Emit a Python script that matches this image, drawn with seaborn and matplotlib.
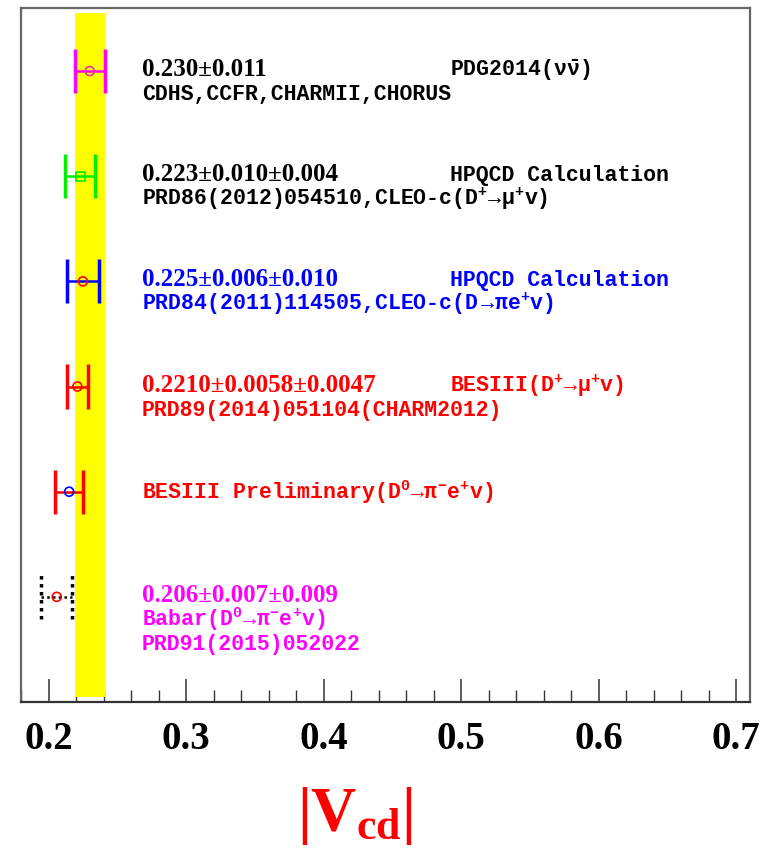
import numpy as np
import pandas as pd
import matplotlib
matplotlib.use("Agg")
import matplotlib.pyplot as plt
from matplotlib.ticker import MultipleLocator
import seaborn as sns

# ---------------- data ----------------
measurements = ["PDG2014", "HPQCD (D+->mu v)", "HPQCD (D->pi e v)",
                "BESIII (D+->mu v)", "BESIII Preliminary", "Babar"]
vcd_values = [0.230, 0.223, 0.225, 0.2210, 0.215, 0.206]
vcd_errors = [0.011, 0.0108, 0.0117, 0.0075, 0.010, 0.0114]

value_texts = ["0.230±0.011", "0.223±0.010±0.004", "0.225±0.006±0.010",
               "0.2210±0.0058±0.0047", "", "0.206±0.007±0.009"]
source_texts = [r"PDG2014($\nu\bar{\nu}$)", "HPQCD Calculation", "HPQCD Calculation",
                r"BESIII(D$^{+}\!\rightarrow\!\mu^{+}$v)", "", ""]
ref_texts = [["CDHS,CCFR,CHARMII,CHORUS"],
             [r"PRD86(2012)054510,CLEO-c(D$^{+}\!\rightarrow\!\mu^{+}$v)"],
             [r"PRD84(2011)114505,CLEO-c(D$\rightarrow\!\pi$e$^{+}$v)"],
             ["PRD89(2014)051104(CHARM2012)"],
             [r"BESIII Preliminary(D$^{0}\!\rightarrow\!\pi^{-}$e$^{+}$v)"],
             [r"Babar(D$^{0}\!\rightarrow\!\pi^{-}$e$^{+}$v)", "PRD91(2015)052022"]]

band_center = 0.230
band_halfwidth = 0.011

x_ticks = [0.2, 0.3, 0.4, 0.5, 0.6, 0.7]
x_tick_labels = ["0.2", "0.3", "0.4", "0.5", "0.6", "0.7"]
x_label = r"$|V_{cd}|$"

# ---------------- styles ----------------
text_colors = ["black", "black", "#0000ff", "#ff0000", "#ff0000", "#ff00ff"]
bar_colors = ["#ff00ff", "#00ee00", "#0000ff", "#ff0000", "#ff0000", "black"]
marker_colors = ["#ee3399", "#00ee00", "#ff0000", "#ff0000", "#0000ff", "#ff0000"]
marker_shapes = ["o", "s", "o", "o", "o", "o"]
bar_styles = ["-", "-", "-", "-", "-", (0, (1, 1.3))]

sns.set_theme(style="white")
plt.rcParams["font.family"] = ["Liberation Serif", "DejaVu Serif"]
plt.rcParams["mathtext.fontset"] = "custom"
plt.rcParams["mathtext.rm"] = "Liberation Serif:bold"
plt.rcParams["mathtext.bf"] = "Liberation Serif:bold"
plt.rcParams["mathtext.it"] = "Liberation Serif:italic:bold"
plt.rcParams["mathtext.default"] = "regular"

fig = plt.figure(figsize=(7.76, 8.5), dpi=100)
ax = fig.add_axes([21 / 776, 1 - 702 / 850, 729 / 776, 694 / 850])
ax.set_facecolor("white")

n = len(measurements)
ypos = np.arange(n, 0, -1).astype(float)

ax.set_xlim(0.18, 0.71)
ax.set_ylim(0, 6.6)

# PDG band
ax.fill_betweenx([0.05, 6.55], band_center - band_halfwidth, band_center + band_halfwidth,
                 color="#ffff00", lw=0, zorder=3)

# error bars
cap_half = 0.21
for i in range(n):
    v, e, y = vcd_values[i], vcd_errors[i], ypos[i]
    ax.hlines(y, v - e, v + e, colors=bar_colors[i], lw=1.8,
              linestyles=[bar_styles[i]], zorder=4)
    ax.vlines([v - e, v + e], y - cap_half, y + cap_half, colors=bar_colors[i],
              lw=2.5, linestyles=[bar_styles[i]], zorder=4)

# markers
df = pd.DataFrame({"vcd": vcd_values, "y": ypos, "name": measurements})
sns.scatterplot(data=df, x="vcd", y="y", style="name",
                markers=dict(zip(measurements, marker_shapes)),
                s=42, legend=False, ax=ax, zorder=5)
coll = ax.collections[-1]
coll.set_facecolor("none")
coll.set_edgecolors(marker_colors)
coll.set_linewidth(1.2)

# annotations
serif_kw = dict(fontfamily="Liberation Serif", fontweight="bold", fontsize=18)
mono_kw = dict(fontfamily=["Liberation Mono", "DejaVu Sans Mono"], fontweight="bold",
               fontsize=15.5)
x_col1, x_col2 = 0.268, 0.492
px_per_unit = 694 / 6.6
line_gap = 24 / px_per_unit
first_offset = 5 / px_per_unit
for i in range(n):
    base = ypos[i] - first_offset
    k = 0
    if value_texts[i]:
        ax.text(x_col1, base, value_texts[i], color=text_colors[i], va="baseline",
                zorder=6, **serif_kw)
        if source_texts[i]:
            ax.text(x_col2, base, source_texts[i], color=text_colors[i], va="baseline",
                    zorder=6, **mono_kw)
        k = 1
    else:
        base = ypos[i] - 7 / px_per_unit
    for line in ref_texts[i]:
        ax.text(x_col1, base - k * line_gap, line, color=text_colors[i], va="baseline",
                zorder=6, **mono_kw)
        k += 1

# axes styling
ax.set_xticks(x_ticks)
ax.set_xticklabels(x_tick_labels, fontfamily="Liberation Serif", fontweight="bold",
                   fontsize=28, color="black")
ax.xaxis.set_minor_locator(MultipleLocator(0.02))
ax.tick_params(axis="x", which="major", direction="in", length=16.5, width=1.1,
               color="#333333", pad=14, bottom=True, top=False)
ax.tick_params(axis="x", which="minor", direction="in", length=8.5, width=1.0,
               color="#333333", bottom=True, top=False)
ax.set_yticks([])
ax.set_ylabel("")
for name, sp in ax.spines.items():
    sp.set_visible(True)
    sp.set_color("#666666")
    sp.set_linewidth(1.6)
ax.spines["bottom"].set_color("#333333")

ax.set_xlabel(x_label, color="#ff0000", fontsize=45, fontfamily="Liberation Serif",
              fontweight="bold")
ax.xaxis.set_label_coords(0.458, -0.12)

fig.savefig("out.png", dpi=100)
